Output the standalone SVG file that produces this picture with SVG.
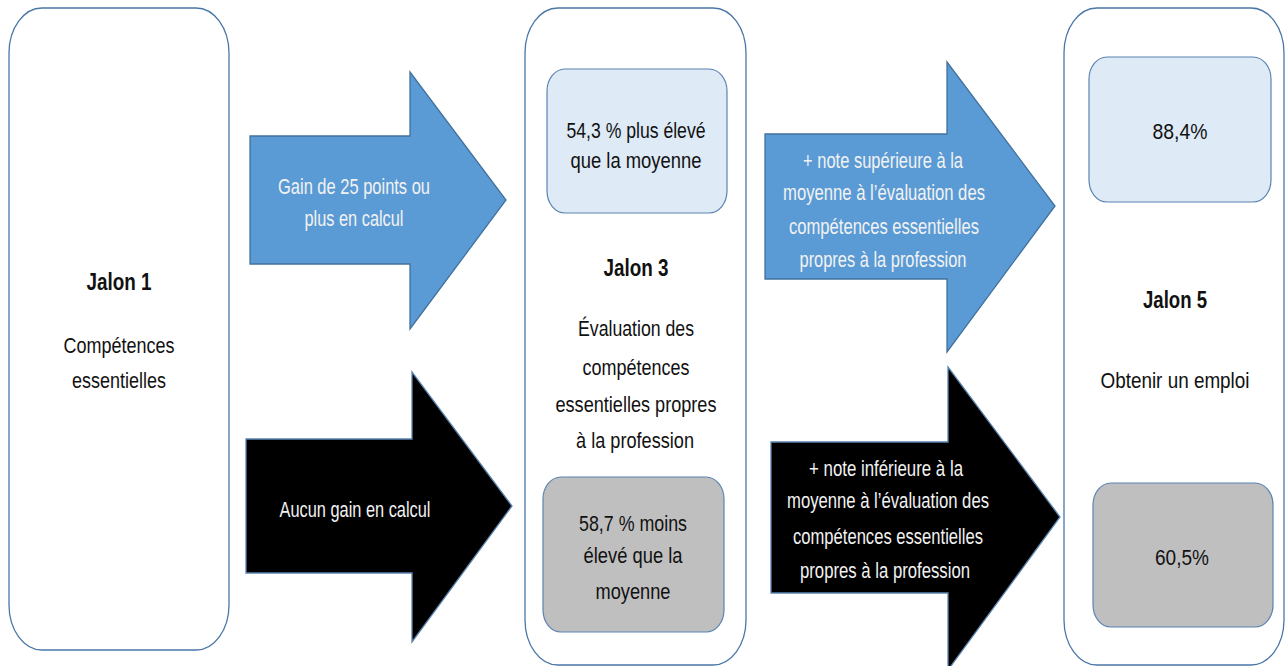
<svg xmlns="http://www.w3.org/2000/svg" width="1285" height="666" viewBox="0 0 1285 666">
<style>
.outer{fill:#fff;stroke:#4a77a8;stroke-width:1.3}
.inblue{fill:#deeaf6;stroke:#5b84b1;stroke-width:1.2}
.ingray{fill:#bfbfbf;stroke:#5b84b1;stroke-width:1.2}
.arrb{fill:#5b9bd5;stroke:#41719c;stroke-width:1.3}
.arrk{fill:#000;stroke:#5b84b1;stroke-width:1.3}
text{font-family:"Liberation Sans",Arial,sans-serif;font-size:22px;text-anchor:middle;fill:#111}
.w{fill:#f2f2f2}
.b{font-weight:bold;font-size:23px}
</style>
<rect width="1285" height="666" fill="#fff"/>
<g id="jalon1">
<rect class="outer" x="9" y="8" width="220" height="642" rx="33" ry="45"/>
<text class="b" x="119" y="290" textLength="65" lengthAdjust="spacingAndGlyphs">Jalon 1</text>
<text x="119" y="353" textLength="111" lengthAdjust="spacingAndGlyphs">Compétences</text>
<text x="119" y="388" textLength="94" lengthAdjust="spacingAndGlyphs">essentielles</text>
</g>
<g id="jalon3">
<rect class="outer" x="525" y="8" width="221" height="657" rx="33" ry="45"/>
<text class="b" x="636" y="276" textLength="65" lengthAdjust="spacingAndGlyphs">Jalon 3</text>
<text x="636" y="336" textLength="116" lengthAdjust="spacingAndGlyphs">Évaluation des</text>
<text x="636" y="375" textLength="107" lengthAdjust="spacingAndGlyphs">compétences</text>
<text x="636" y="412" textLength="161" lengthAdjust="spacingAndGlyphs">essentielles propres</text>
<text x="635" y="448" textLength="118" lengthAdjust="spacingAndGlyphs">à la profession</text>
</g>
<g id="sup3">
<rect class="inblue" x="547" y="69" width="180" height="144" rx="18" ry="22"/>
<text x="636" y="138" textLength="139" lengthAdjust="spacingAndGlyphs">54,3 % plus élevé</text>
<text x="636" y="168" textLength="131" lengthAdjust="spacingAndGlyphs">que la moyenne</text>
</g>
<g id="inf3">
<rect class="ingray" x="543" y="477" width="181" height="155" rx="18" ry="22"/>
<text x="633" y="531" textLength="108" lengthAdjust="spacingAndGlyphs">58,7 % moins</text>
<text x="633" y="563" textLength="99" lengthAdjust="spacingAndGlyphs">élevé que la</text>
<text x="633" y="599" textLength="75" lengthAdjust="spacingAndGlyphs">moyenne</text>
</g>
<g id="jalon5">
<rect class="outer" x="1064" y="8" width="220" height="657" rx="33" ry="45"/>
<text class="b" x="1175" y="308" textLength="64" lengthAdjust="spacingAndGlyphs">Jalon 5</text>
<text x="1175" y="388" textLength="149" lengthAdjust="spacingAndGlyphs">Obtenir un emploi</text>
</g>
<g id="sup5">
<rect class="inblue" x="1089" y="57" width="182" height="145" rx="18" ry="22"/>
<text x="1180" y="139" textLength="55" lengthAdjust="spacingAndGlyphs">88,4%</text>
</g>
<g id="inf5">
<rect class="ingray" x="1093" y="483" width="180" height="144" rx="18" ry="22"/>
<text x="1182" y="565" textLength="54" lengthAdjust="spacingAndGlyphs">60,5%</text>
</g>
<g id="connectors">
<g id="a1">
<polygon class="arrb" points="250,136 410,136 410,72 506,200 410,329 410,264 250,264"/>
<text class="w" x="354" y="194" textLength="152" lengthAdjust="spacingAndGlyphs">Gain de 25 points ou</text>
<text class="w" x="354" y="226" textLength="99" lengthAdjust="spacingAndGlyphs">plus en calcul</text>
</g>
<g id="a2">
<polygon class="arrk" points="246,439 412,439 412,372 512,506 412,642 412,573 246,573"/>
<text class="w" x="355" y="517" textLength="151" lengthAdjust="spacingAndGlyphs">Aucun gain en calcul</text>
</g>
<g id="a3">
<polygon class="arrb" points="765,134 947,134 947,62 1055,206 947,352 947,279 765,279"/>
<text class="w" x="883" y="168" textLength="160" lengthAdjust="spacingAndGlyphs">+ note supérieure à la</text>
<text class="w" x="884" y="200" textLength="202" lengthAdjust="spacingAndGlyphs">moyenne à l’évaluation des</text>
<text class="w" x="884" y="234" textLength="190" lengthAdjust="spacingAndGlyphs">compétences essentielles</text>
<text class="w" x="883" y="267" textLength="167" lengthAdjust="spacingAndGlyphs">propres à la profession</text>
</g>
<g id="a4">
<polygon class="arrk" points="771,442 948,442 948,367 1060,517 948,670 948,593 771,593"/>
<text class="w" x="886" y="476" textLength="154" lengthAdjust="spacingAndGlyphs">+ note inférieure à la</text>
<text class="w" x="888" y="508" textLength="202" lengthAdjust="spacingAndGlyphs">moyenne à l’évaluation des</text>
<text class="w" x="888" y="544" textLength="190" lengthAdjust="spacingAndGlyphs">compétences essentielles</text>
<text class="w" x="885" y="578" textLength="170" lengthAdjust="spacingAndGlyphs">propres à la profession</text>
</g>
</g>
</svg>
